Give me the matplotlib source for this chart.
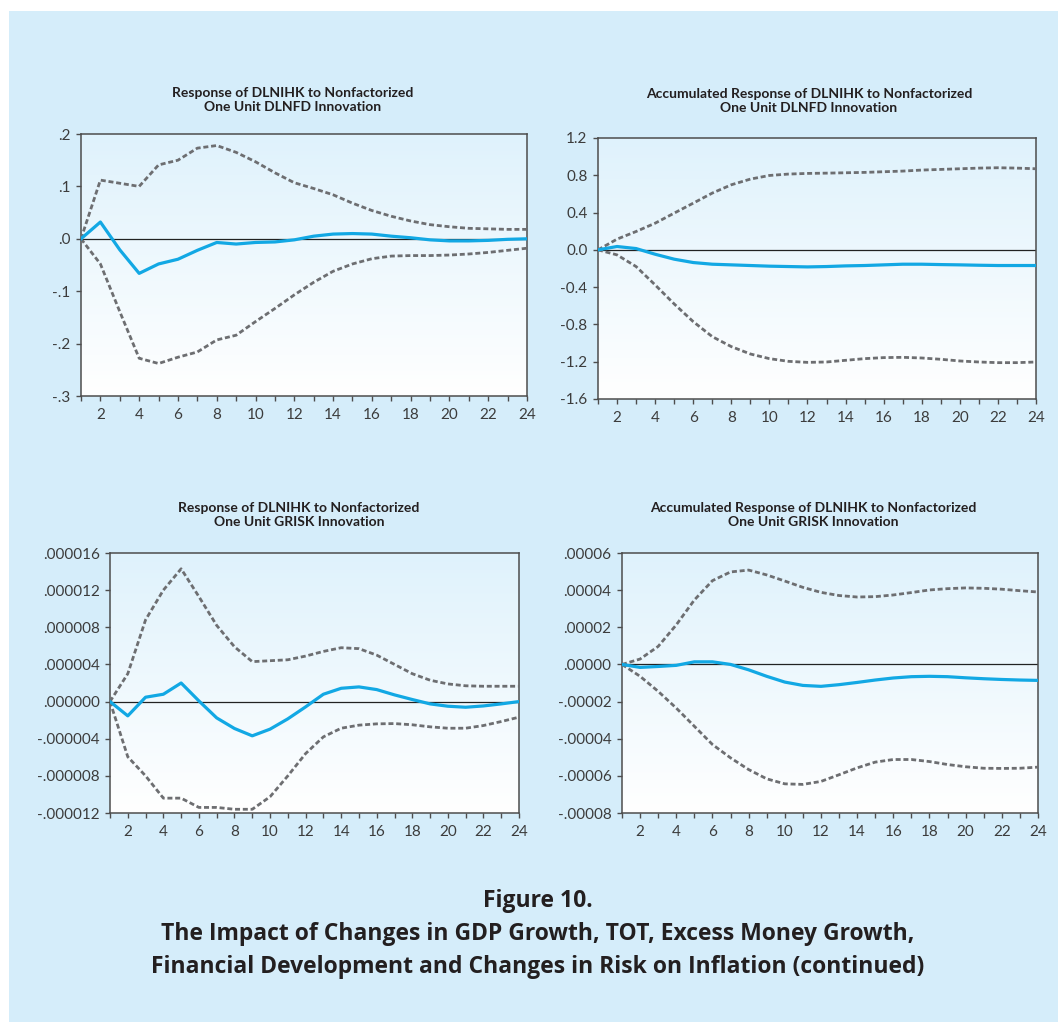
import numpy as np
import matplotlib
matplotlib.use("Agg")
import matplotlib.pyplot as plt
from matplotlib.patches import Rectangle
from matplotlib.colors import LinearSegmentedColormap

# horizon (periods)
periods = list(range(1, 25))

# Response of DLNIHK to DLNFD
resp_fd = [0.0, 0.032, -0.021, -0.066, -0.048, -0.039, -0.022, -0.007, -0.010, -0.007,
           -0.006, -0.002, 0.005, 0.009, 0.010, 0.009, 0.005, 0.002, -0.002, -0.004,
           -0.004, -0.003, -0.001, 0.000]
resp_fd_hi = [0.0, 0.112, 0.106, 0.100, 0.141, 0.150, 0.173, 0.178, 0.165, 0.147,
              0.126, 0.107, 0.096, 0.084, 0.068, 0.054, 0.043, 0.034, 0.027, 0.023,
              0.020, 0.019, 0.018, 0.018]
resp_fd_lo = [0.0, -0.048, -0.139, -0.228, -0.238, -0.226, -0.216, -0.193, -0.184, -0.158,
              -0.133, -0.107, -0.083, -0.062, -0.048, -0.038, -0.033, -0.032, -0.032, -0.031,
              -0.029, -0.026, -0.022, -0.018]

# Accumulated response of DLNIHK to DLNFD
acc_fd = [0.0, 0.036, 0.014, -0.047, -0.100, -0.136, -0.154, -0.161, -0.168, -0.175,
          -0.179, -0.183, -0.179, -0.172, -0.168, -0.161, -0.154, -0.154, -0.158, -0.161,
          -0.165, -0.168, -0.168, -0.168]
acc_fd_hi = [0.0, 0.115, 0.197, 0.286, 0.394, 0.501, 0.609, 0.698, 0.759, 0.798,
             0.813, 0.820, 0.823, 0.827, 0.831, 0.838, 0.845, 0.856, 0.863, 0.870,
             0.877, 0.881, 0.877, 0.870]
acc_fd_lo = [0.0, -0.054, -0.179, -0.376, -0.580, -0.770, -0.931, -1.038, -1.117, -1.167,
             -1.196, -1.207, -1.203, -1.185, -1.167, -1.156, -1.153, -1.160, -1.174, -1.192,
             -1.203, -1.210, -1.210, -1.203]

# Response of DLNIHK to GRISK (x 1e-6)
resp_gr = [0.0, -1.54, 0.47, 0.79, 2.0, 0.07, -1.76, -2.9, -3.69, -2.97,
           -1.86, -0.57, 0.79, 1.43, 1.58, 1.29, 0.72, 0.22, -0.25, -0.50,
           -0.61, -0.47, -0.25, 0.0]
resp_gr_hi = [0.0, 3.0, 8.8, 12.0, 14.3, 11.3, 8.2, 5.9, 4.3, 4.4,
              4.5, 4.9, 5.4, 5.8, 5.7, 5.0, 4.0, 3.0, 2.3, 1.9,
              1.7, 1.65, 1.65, 1.65]
resp_gr_lo = [0.0, -5.95, -8.0, -10.4, -10.4, -11.4, -11.4, -11.6, -11.6, -10.25,
              -8.0, -5.6, -3.8, -2.87, -2.54, -2.4, -2.37, -2.5, -2.72, -2.87,
              -2.87, -2.58, -2.15, -1.68]

# Accumulated response of DLNIHK to GRISK (x 1e-5)
acc_gr = [0.0, -0.16, -0.11, -0.05, 0.14, 0.14, 0.0, -0.29, -0.64, -0.95,
          -1.13, -1.18, -1.09, -0.97, -0.84, -0.73, -0.66, -0.64, -0.66, -0.72,
          -0.77, -0.81, -0.84, -0.86]
acc_gr_hi = [0.0, 0.29, 0.97, 2.13, 3.47, 4.51, 4.98, 5.08, 4.82, 4.49,
             4.15, 3.88, 3.71, 3.63, 3.65, 3.74, 3.87, 4.01, 4.08, 4.12,
             4.10, 4.05, 3.97, 3.90]
acc_gr_lo = [0.0, -0.64, -1.45, -2.35, -3.33, -4.31, -5.03, -5.66, -6.16, -6.43,
             -6.46, -6.30, -5.94, -5.57, -5.26, -5.12, -5.12, -5.23, -5.39, -5.51,
             -5.59, -5.60, -5.59, -5.53]

titles = [
    "Response of DLNIHK to Nonfactorized\nOne Unit DLNFD Innovation",
    "Accumulated Response of DLNIHK to Nonfactorized\nOne Unit DLNFD Innovation",
    "Response of DLNIHK to Nonfactorized\nOne Unit GRISK Innovation",
    "Accumulated Response of DLNIHK to Nonfactorized\nOne Unit GRISK Innovation",
]

yticks_fd = [-0.3, -0.2, -0.1, 0.0, 0.1, 0.2]
ylabels_fd = ["-.3", "-.2", "-.1", ".0", ".1", ".2"]
yticks_acc_fd = [-1.6, -1.2, -0.8, -0.4, 0.0, 0.4, 0.8, 1.2]
ylabels_acc_fd = ["-1.6", "-1.2", "-0.8", "-0.4", "0.0", "0.4", "0.8", "1.2"]
yticks_gr = [-12e-6, -8e-6, -4e-6, 0.0, 4e-6, 8e-6, 12e-6, 16e-6]
ylabels_gr = ["-.000012", "-.000008", "-.000004", ".000000",
              ".000004", ".000008", ".000012", ".000016"]
yticks_acc_gr = [-8e-5, -6e-5, -4e-5, -2e-5, 0.0, 2e-5, 4e-5, 6e-5]
ylabels_acc_gr = ["-.00008", "-.00006", "-.00004", "-.00002",
                  ".00000", ".00002", ".00004", ".00006"]

caption = ("Figure 10.\nThe Impact of Changes in GDP Growth, TOT, Excess Money Growth,\n"
           "Financial Development and Changes in Risk on Inflation (continued)")

BG = "#d5edfa"
LINE = "#12a8e4"
BAND = "#6d6e71"
FONT = ["Lato", "DejaVu Sans"]
CAP_FONT = ["Open Sans", "DejaVu Sans"]

W, H = 1058, 1022
fig = plt.figure(figsize=(W / 100, H / 100), dpi=100)
fig.patch.set_facecolor("white")
fig.patches.append(Rectangle((9 / W, 0), 1 - 9 / W, 1 - 11 / H, transform=fig.transFigure,
                             facecolor=BG, edgecolor="none", zorder=-5))

grad = LinearSegmentedColormap.from_list("sky", ["#ffffff", "#dff2fc"])


def px_axes(left, top, right, bottom):
    return fig.add_axes([left / W, 1 - bottom / H, (right - left) / W, (bottom - top) / H])


def draw_panel(ax, mid, hi, lo, scale, yticks, ylabels, ylim):
    ax.imshow(np.linspace(0, 1, 256).reshape(-1, 1), cmap=grad, origin="lower",
              extent=[0, 1, 0, 1], transform=ax.transAxes, aspect="auto", zorder=0)
    ax.axhline(0, color="#222222", lw=0.9, zorder=2)
    x = np.array(periods)
    ax.plot(x, np.array(hi) * scale, color=BAND, lw=2.0, dashes=(1.8, 1.0),
            dash_capstyle="butt", zorder=3)
    ax.plot(x, np.array(lo) * scale, color=BAND, lw=2.0, dashes=(1.8, 1.0),
            dash_capstyle="butt", zorder=3)
    ax.plot(x, np.array(mid) * scale, color=LINE, lw=2.3, zorder=4)
    ax.set_xlim(1, 24)
    ax.set_ylim(*ylim)
    ax.set_xticks(periods)
    ax.set_xticklabels([str(p) if p % 2 == 0 else "" for p in periods])
    ax.set_yticks(yticks)
    ax.set_yticklabels(ylabels)
    ax.tick_params(direction="out", length=3.5, width=1.0, color="#4d4d4d",
                   labelcolor="#3c3c3c", labelsize=11, pad=4)
    ax.tick_params(axis="x", pad=5)
    for lab in ax.get_xticklabels() + ax.get_yticklabels():
        lab.set_family(FONT)
    for sp in ax.spines.values():
        sp.set_color("#4d4d4d")
        sp.set_linewidth(1.1)


ax1 = px_axes(81, 134, 527, 396)
draw_panel(ax1, resp_fd, resp_fd_hi, resp_fd_lo, 1.0, yticks_fd, ylabels_fd, (-0.3, 0.2))
ax2 = px_axes(598, 138, 1036, 399)
draw_panel(ax2, acc_fd, acc_fd_hi, acc_fd_lo, 1.0, yticks_acc_fd, ylabels_acc_fd, (-1.6, 1.2))
ax3 = px_axes(110, 553, 519, 813)
draw_panel(ax3, resp_gr, resp_gr_hi, resp_gr_lo, 1e-6, yticks_gr, ylabels_gr, (-12e-6, 16e-6))
ax4 = px_axes(622, 553, 1038, 813)
draw_panel(ax4, acc_gr, acc_gr_hi, acc_gr_lo, 1e-5, yticks_acc_gr, ylabels_acc_gr, (-8e-5, 6e-5))

# panel headings
for (cx, cy), t in zip([(293, 100), (809, 101), (299, 515), (813, 515)], titles):
    fig.text(cx / W, 1 - cy / H, t, ha="center", va="center", fontsize=10,
             fontweight="bold", family=FONT, color="#231f20", linespacing=1.2)

fig.text(538 / W, 1 - 934 / H, caption, ha="center", va="center", fontsize=16.5,
         fontweight="bold", family=CAP_FONT, color="#231f20", linespacing=1.5)

fig.savefig("out.png", dpi=100, facecolor=fig.get_facecolor())
